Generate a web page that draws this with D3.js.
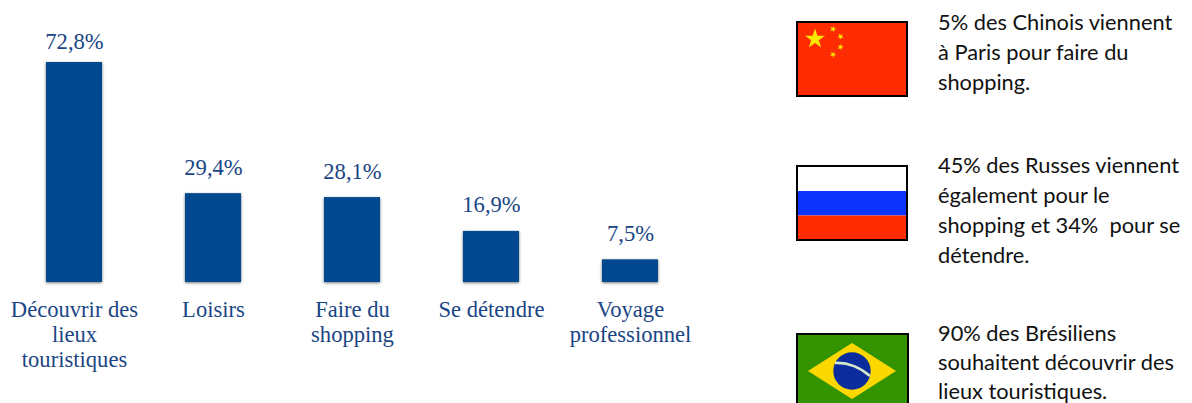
<!DOCTYPE html>
<html lang="fr">
<head>
<meta charset="utf-8">
<title>Motifs de visite à Paris</title>
<script src="https://cdn.jsdelivr.net/npm/d3@7/dist/d3.min.js"></script>
<style>
  html, body { margin: 0; padding: 0; background: #fff; }
  svg { display: block; }
  .bar-label, .cat-label { font-family: "Liberation Serif", serif; fill: #1a4585; text-anchor: middle; }
  .bar-label { font-size: 22.6px; }
  .cat-label { font-size: 22.6px; }
  .note { font-family: "Lato", sans-serif; font-size: 21.8px; fill: #111; }
</style>
</head>
<body>
<svg id="chart" width="1192" height="403" viewBox="0 0 1192 403"></svg>
<script>
// Reasons for visiting Paris
const categories = ["Découvrir des lieux touristiques", "Loisirs", "Faire du shopping", "Se détendre", "Voyage professionnel"];
const categoryLines = [["Découvrir des", "lieux", "touristiques"], ["Loisirs"], ["Faire du", "shopping"], ["Se détendre"], ["Voyage", "professionnel"]];
const shares = [72.8, 29.4, 28.1, 16.9, 7.5];
const shareLabels = ["72,8%", "29,4%", "28,1%", "16,9%", "7,5%"];

// Side notes, one per flag
const chinaNote = ["5% des Chinois viennent", "à Paris pour faire du", "shopping."];
const russiaNote = ["45% des Russes viennent", "également pour le", "shopping et 34%  pour se", "détendre."];
const brazilNote = ["90% des Brésiliens", "souhaitent découvrir des", "lieux touristiques."];

const svg = d3.select("#chart");

const defs = svg.append("defs");
const shadow = defs.append("filter").attr("id", "bar-shadow")
  .attr("x", "-20%").attr("y", "-10%").attr("width", "140%").attr("height", "125%");
shadow.append("feDropShadow").attr("dx", 0).attr("dy", 1)
  .attr("stdDeviation", 1.5).attr("flood-color", "#000").attr("flood-opacity", 0.55);

const x = d3.scaleBand().domain(categories).range([4.5, 699.5]).paddingInner(0.597).paddingOuter(0.2985);
const y = d3.scaleLinear().domain([0, 72.8]).range([282, 62]);

const bars = svg.append("g").selectAll("g").data(categories).join("g");

bars.append("rect")
  .attr("x", d => x(d))
  .attr("width", x.bandwidth())
  .attr("y", (d, i) => y(shares[i]))
  .attr("height", (d, i) => y(0) - y(shares[i]))
  .attr("fill", "#024a8e")
  .attr("filter", "url(#bar-shadow)");

// Value labels sit above each bar, but the tallest one stays inside the top margin
bars.append("text")
  .attr("class", "bar-label")
  .attr("x", d => x(d) + x.bandwidth() / 2 + 0.5)
  .attr("y", (d, i) => Math.max(49, y(shares[i]) - 18.5))
  .text((d, i) => shareLabels[i]);

bars.each(function (d, i) {
  const label = d3.select(this).append("text")
    .attr("class", "cat-label")
    .attr("y", 317);
  categoryLines[i].forEach((line, k) => {
    label.append("tspan")
      .attr("x", x(d) + x.bandwidth() / 2 + 0.5)
      .attr("dy", k === 0 ? 0 : 25)
      .text(line);
  });
});

function note(lines, top, lead) {
  const t = svg.append("text").attr("class", "note").attr("y", top);
  lines.forEach((line, k) => {
    t.append("tspan").attr("x", 938).attr("dy", k === 0 ? 0 : lead)
      .style("white-space", "pre").text(line);
  });
}
note(chinaNote, 30, 30);
note(russiaNote, 173, 30);
note(brazilNote, 341, 29);

// Five-pointed star centred on (cx, cy)
function star(g, cx, cy, r, rot) {
  const radial = d3.lineRadial().radius((d, i) => i % 2 ? r * 0.382 : r).angle((d, i) => i * Math.PI / 5);
  g.append("path")
    .attr("d", radial(d3.range(10)) + "Z")
    .attr("transform", `translate(${cx},${cy}) rotate(${rot})`)
    .attr("fill", "#fbe800");
}

function frame(g, x0, y0, w, h) {
  g.append("rect").attr("x", x0).attr("y", y0).attr("width", w).attr("height", h)
    .attr("fill", "none").attr("stroke", "#000").attr("stroke-width", 2);
}

// China
const cn = svg.append("g");
cn.append("rect").attr("x", 797).attr("y", 22).attr("width", 110).attr("height", 74).attr("fill", "#fe2c00");
star(cn, 815, 39, 10.5, 0);
star(cn, 833, 29, 3.4, 25);
star(cn, 840.5, 36.5, 3.4, 45);
star(cn, 840.5, 47, 3.4, 15);
star(cn, 833, 54.5, 3.4, 30);
frame(cn, 797, 22, 110, 74);

// Russia
const ru = svg.append("g");
ru.append("rect").attr("x", 797).attr("y", 166).attr("width", 110).attr("height", 25).attr("fill", "#fff");
ru.append("rect").attr("x", 797).attr("y", 191).attr("width", 110).attr("height", 24.5).attr("fill", "#0d33ff");
ru.append("rect").attr("x", 797).attr("y", 215.5).attr("width", 110).attr("height", 24.5).attr("fill", "#fe2c00");
frame(ru, 797, 166, 110, 74);

// Brazil, running off the bottom of the page
const br = svg.append("g");
br.append("rect").attr("x", 797).attr("y", 334).attr("width", 111).attr("height", 74).attr("fill", "#349400");
br.append("path")
  .attr("d", d3.line()([[808, 371], [852, 343], [896, 371], [852, 399]]) + "Z")
  .attr("fill", "#fdd800");
br.append("circle").attr("cx", 852).attr("cy", 371).attr("r", 18.7).attr("fill", "#0a2c9c");
br.append("path")
  .attr("d", "M835 363 C848 362 861 368 870 376")
  .attr("fill", "none").attr("stroke", "#d5e8c8").attr("stroke-width", 2.6);
frame(br, 797, 334, 111, 74);
</script>
</body>
</html>
